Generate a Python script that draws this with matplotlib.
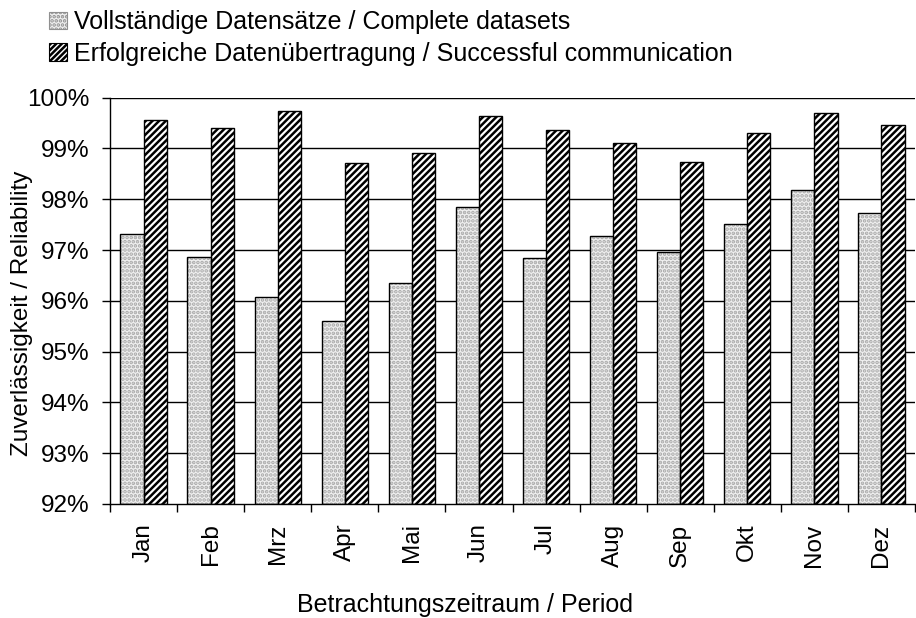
import numpy as np
import matplotlib
matplotlib.use("Agg")
import matplotlib.pyplot as plt
from matplotlib.patches import Patch

plt.rcParams["font.family"] = ["Liberation Sans", "DejaVu Sans"]
plt.rcParams["hatch.linewidth"] = 1.8

# monthly reliability, percent
months = ["Jan", "Feb", "Mrz", "Apr", "Mai", "Jun",
          "Jul", "Aug", "Sep", "Okt", "Nov", "Dez"]
complete = [97.32, 96.87, 96.08, 95.60, 96.36, 97.85,
            96.84, 97.27, 96.96, 97.52, 98.18, 97.72]
success = [99.56, 99.40, 99.73, 98.71, 98.91, 99.64,
           99.36, 99.11, 98.73, 99.31, 99.70, 99.46]
yticks = [92, 93, 94, 95, 96, 97, 98, 99, 100]

label_complete = "Vollständige Datensätze / Complete datasets"
label_success = "Erfolgreiche Datenübertragung / Successful communication"

FS = 17.5

fig = plt.figure(figsize=(9.16, 6.18), dpi=100)
ax = fig.add_axes([0.1201, 0.1845, 0.8788, 0.6575])

x = np.arange(len(months))
w = 0.345
base = yticks[0]

# gridlines behind the bars
for v in yticks[1:]:
    ax.axhline(v, color="black", lw=1.0, zorder=0)

# dotted light bars: pattern layer, then outline
ax.bar(x - w / 2, np.array(complete) - base, w, bottom=base,
       facecolor="#efefef", edgecolor="#a8a8a8", hatch="....",
       linewidth=0, zorder=2)
ax.bar(x - w / 2, np.array(complete) - base, w, bottom=base,
       facecolor="none", edgecolor="black", linewidth=1.0, zorder=3)

# striped dark bars
ax.bar(x + w / 2, np.array(success) - base, w, bottom=base,
       facecolor="white", edgecolor="black", hatch="/////",
       linewidth=1.0, zorder=2)

ax.set_xlim(-0.5, len(months) - 0.5)
ax.set_ylim(yticks[0], yticks[-1])
ax.set_yticks(yticks)
ax.set_yticklabels([f"{v}%" for v in yticks], fontsize=FS)
ax.set_xticks(x)
ax.set_xticklabels(months, rotation=90, fontsize=FS)
ax.set_xticks(np.arange(len(months) + 1) - 0.5, minor=True)
ax.tick_params(axis="x", which="major", length=0, pad=14)
ax.tick_params(axis="x", which="minor", length=6, width=1.0, direction="out")
ax.tick_params(axis="y", length=6, width=1.0, direction="out", pad=8.5)

for s in ("top", "right"):
    ax.spines[s].set_visible(False)
for s in ("left", "bottom"):
    ax.spines[s].set_linewidth(1.0)

ax.set_xlabel("Betrachtungszeitraum / Period", fontsize=18)
ax.xaxis.set_label_coords(0.441, -0.218)
ax.set_ylabel("Zuverlässigkeit / Reliability", fontsize=FS)
ax.yaxis.set_label_coords(-0.096, 0.47)

h1 = Patch(facecolor="#efefef", edgecolor="#909090", hatch="....", linewidth=0.8)
h2 = Patch(facecolor="white", edgecolor="black", hatch="//////", linewidth=0.8)
fig.legend([h1, h2], [label_complete, label_success],
           loc="upper left", bbox_to_anchor=(49 / 916, 1 - 10 / 618),
           frameon=False, fontsize=18, handlelength=0.7, handleheight=0.7,
           handletextpad=0.3, labelspacing=0.3, borderpad=0,
           borderaxespad=0)

fig.savefig("out.png", dpi=100)
